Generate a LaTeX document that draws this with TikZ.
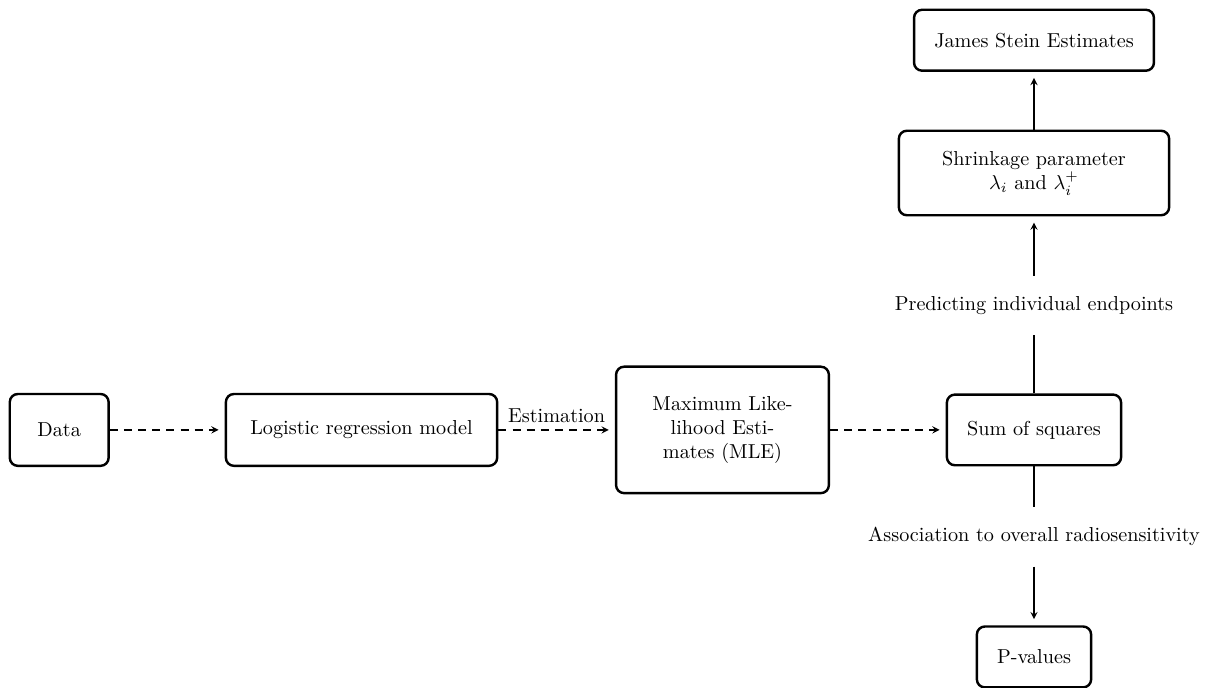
\documentclass[tikz,border=0pt]{standalone}
\usepackage{amsmath}
\usepackage{amssymb}
\usepackage{tikz}

\begin{document}
\begin{tikzpicture}[>=stealth,
        box/.style={draw, very thick, rounded corners, inner sep=10pt, align=center},
        lbl/.style={inner sep=10pt},
        flow/.style={->, semithick, shorten >=3pt},
        dflow/.style={flow, dash pattern=on 4pt off 3pt}]
        \useasboundingbox (0,0) rectangle (21.0,11.97);

        % Row of the model
        \node[box, minimum width=1.72cm, minimum height=1.25cm] (data) at (1.03,4.49) {Data};
        \node[box, minimum width=4.72cm, minimum height=1.25cm] (logit) at (6.29,4.49) {Logistic regression model};
        \node[box, text width=3cm, minimum height=2.2cm] (mle) at (12.57,4.49) {Maximum Like-\\lihood Esti-\\mates (MLE)};
        \node[box, minimum height=1.23cm] (sos) at (17.99,4.49) {Sum of squares};

        % Column upwards
        \node[lbl] (pred) at (17.99,6.66) {Predicting individual endpoints};
        \node[box, text width=4cm] (shrink) at (17.99,8.96) {Shrinkage parameter\\$\lambda_i$ and $\lambda_i^+$};
        \node[box, minimum height=1.06cm] (js) at (17.99,11.27) {James Stein Estimates};

        % Column downwards
        \node[lbl] (assoc) at (17.99,2.63) {Association to overall radiosensitivity};
        \node[box, minimum height=1.06cm] (pval) at (17.99,0.54) {P-values};

        % Connectors
        \draw[dflow] (data) -- (logit);
        \draw[dflow] (logit) -- node[above] {Estimation} (mle);
        \draw[dflow] (mle) -- (sos);
        \draw[semithick] (sos) -- (pred);
        \draw[flow] (pred) -- (shrink);
        \draw[flow] (shrink) -- (js);
        \draw[semithick] (sos) -- (assoc);
        \draw[flow] (assoc) -- (pval);
\end{tikzpicture}
\end{document}
